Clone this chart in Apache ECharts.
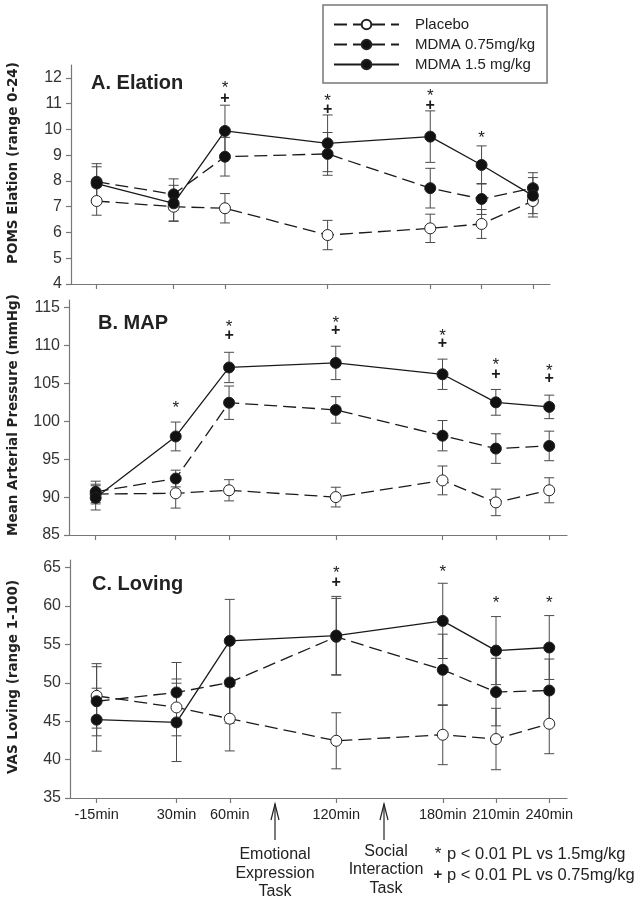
<!DOCTYPE html>
<html>
<head>
<meta charset="utf-8">
<script src="https://cdn.jsdelivr.net/npm/echarts@6/dist/echarts.min.js"></script>
<style>html,body{margin:0;padding:0;background:#fff;}#c{width:638px;height:902px;}</style>
</head>
<body>
<div id="c"></div>
<script>
// ---- data ----
const times = [-15, 30, 60, 120, 180, 210, 240];
const seriesNames = ['Placebo', 'MDMA 0.75mg/kg', 'MDMA 1.5 mg/kg'];

const elationPlacebo = [7.22, 7.0, 6.94, 5.90, 6.16, 6.33, 7.22];
const elationLow     = [7.97, 7.48, 8.94, 9.05, 7.72, 7.30, 7.72];
const elationHigh    = [7.90, 7.13, 9.94, 9.46, 9.72, 8.62, 7.43];
const elationPlaceboSE = [0.55, 0.55, 0.57, 0.57, 0.55, 0.56, 0.62];
const elationLowSE     = [0.70, 0.60, 0.75, 0.83, 0.77, 0.60, 0.60];
const elationHighSE    = [0.65, 0.70, 1.00, 1.10, 1.00, 0.74, 0.70];
const elationStar = [null, null, 11.76, 11.26, 11.43, 9.82, null];
const elationPlus = [null, null, 11.21, 10.76, 10.94, null, null];

const mapPlacebo = [90.4, 90.5, 90.9, 90.0, 92.2, 89.3, 90.9];
const mapLow     = [90.7, 92.45, 102.45, 101.5, 98.1, 96.4, 96.75];
const mapHigh    = [89.9, 98.0, 107.1, 107.7, 106.2, 102.5, 101.9];
const mapPlaceboSE = [1.3, 1.95, 1.4, 1.3, 1.9, 1.75, 1.65];
const mapLowSE     = [1.4, 1.1, 2.2, 1.75, 2.0, 1.95, 1.95];
const mapHighSE    = [1.6, 1.9, 2.0, 2.2, 2.0, 1.7, 1.55];
const mapStar = [null, 102.2, 112.9, 113.5, 111.7, 107.9, 107.1];
const mapPlus = [null, null, 111.3, 111.9, 110.2, 106.2, 105.6];

const lovingPlacebo = [48.3, 46.8, 45.33, 42.45, 43.24, 42.68, 44.67];
const lovingLow     = [47.6, 48.75, 50.05, 56.0, 51.7, 48.8, 49.0];
const lovingHigh    = [45.2, 44.85, 55.47, 56.16, 58.07, 54.2, 54.6];
const lovingPlaceboSE = [4.2, 3.7, 4.2, 3.65, 3.9, 4.0, 3.9];
const lovingLowSE     = [4.5, 3.9, 5.3, 5.0, 4.64, 4.4, 4.1];
const lovingHighSE    = [4.1, 5.1, 5.4, 5.1, 4.9, 4.43, 4.16];
const lovingStar = [null, null, null, 64.8, 64.9, 60.9, 60.9];
const lovingPlus = [null, null, null, 63.05, null, null, null];

const elationTicks = [4, 5, 6, 7, 8, 9, 10, 11, 12];
const mapTicks = [85, 90, 95, 100, 105, 110, 115];
const lovingTicks = [35, 40, 45, 50, 55, 60, 65];

// ---- build ----
const FONT = 'Liberation Sans, Arial, sans-serif';
const WIDE = 'DejaVu Sans, sans-serif';
const INK = '#1a1a1a';
const panels = [
  { grid: {left: 71, width: 479, top: 65, height: 219}, min: 4, max: 12.5, ticks: elationTicks,
    means: [elationPlacebo, elationLow, elationHigh], se: [elationPlaceboSE, elationLowSE, elationHighSE],
    star: elationStar, plus: elationPlus, showX: false },
  { grid: {left: 69, width: 498, top: 300, height: 235}, min: 85, max: 116, ticks: mapTicks,
    means: [mapPlacebo, mapLow, mapHigh], se: [mapPlaceboSE, mapLowSE, mapHighSE],
    star: mapStar, plus: mapPlus, showX: false },
  { grid: {left: 70, width: 497, top: 560, height: 238}, min: 35, max: 66, ticks: lovingTicks,
    means: [lovingPlacebo, lovingLow, lovingHigh], se: [lovingPlaceboSE, lovingLowSE, lovingHighSE],
    star: lovingStar, plus: lovingPlus, showX: true }
];

const axisLineStyle = {color: '#777', width: 1.2};
const grids = [], xAxes = [], yAxes = [], series = [];

function errRender(params, api) {
  const x = api.value(0), m = api.value(1), e = api.value(2);
  const t = api.coord([x, m + e]), b = api.coord([x, m - e]);
  const w = 5, st = {stroke: '#4a4a4a', lineWidth: 1};
  return {type: 'group', children: [
    {type: 'line', shape: {x1: t[0], y1: t[1], x2: b[0], y2: b[1]}, style: st},
    {type: 'line', shape: {x1: t[0] - w, y1: t[1], x2: t[0] + w, y2: t[1]}, style: st},
    {type: 'line', shape: {x1: b[0] - w, y1: b[1], x2: b[0] + w, y2: b[1]}, style: st}
  ]};
}
function textRender(txt, font, dy) {
  return function (params, api) {
    const p = api.coord([api.value(0), api.value(1)]);
    return {type: 'text', x: p[0], y: p[1] + dy,
      style: {text: txt, font: font, fill: '#1a1a1a', align: 'center', verticalAlign: 'middle'}};
  };
}
function pairs(vals) {
  const out = [];
  vals.forEach((v, i) => { if (v !== null) out.push([times[i], v]); });
  return out;
}

panels.forEach((p, gi) => {
  grids.push(p.grid);
  xAxes.push({
    type: 'value', gridIndex: gi, min: -30, max: 250,
    axisLine: {show: true, onZero: false, lineStyle: axisLineStyle},
    axisTick: {show: true, length: 5, lineStyle: axisLineStyle, customValues: times},
    axisLabel: {show: p.showX, customValues: times, formatter: v => v + 'min',
      fontFamily: FONT, fontSize: 14.5, color: '#222', margin: 9},
    splitLine: {show: false}
  });
  yAxes.push({
    type: 'value', gridIndex: gi, min: p.min, max: p.max,
    axisLine: {show: true, onZero: false, lineStyle: axisLineStyle},
    axisTick: {show: true, length: 5, lineStyle: axisLineStyle, customValues: p.ticks},
    axisLabel: {customValues: p.ticks, fontFamily: FONT, fontSize: 16, color: '#333', margin: 9},
    splitLine: {show: false}
  });
  // error bars
  p.means.forEach((arr, si) => {
    series.push({
      type: 'custom', name: 'err' + gi + si, xAxisIndex: gi, yAxisIndex: gi, z: 1,
      renderItem: errRender, encode: {x: 0, y: 1},
      data: arr.map((v, i) => [times[i], v, p.se[si][i]]), silent: true
    });
  });
  // lines
  p.means.forEach((arr, si) => {
    const isPlacebo = si === 0;
    series.push({
      type: 'line', name: seriesNames[si], xAxisIndex: gi, yAxisIndex: gi, z: 3 + si,
      data: arr.map((v, i) => [times[i], v]),
      symbol: 'circle', symbolSize: 11, showSymbol: true,
      lineStyle: {color: INK, width: 1.3, type: si === 2 ? 'solid' : [13, 6]},
      itemStyle: {color: isPlacebo ? '#fff' : '#111', borderColor: '#222', borderWidth: 1},
      emphasis: {disabled: true}, animation: false
    });
  });
  series.push({type: 'custom', name: 'star' + gi, xAxisIndex: gi, yAxisIndex: gi, z: 6,
    renderItem: textRender('*', '17px ' + FONT, 4), encode: {x: 0, y: 1}, data: pairs(p.star), silent: true});
  series.push({type: 'custom', name: 'plus' + gi, xAxisIndex: gi, yAxisIndex: gi, z: 6,
    renderItem: textRender('+', 'bold 16px ' + FONT, 0), encode: {x: 0, y: 1}, data: pairs(p.plus), silent: true});
});

function arrow(x) {
  const s = {stroke: '#222', lineWidth: 1.2, fill: null};
  return [
    {type: 'line', shape: {x1: x, y1: 804, x2: x, y2: 840}, style: s},
    {type: 'polyline', shape: {points: [[x - 4, 820], [x, 804], [x + 4, 820]]}, style: s}
  ];
}
function txt(text, x, y, opts) {
  return Object.assign({type: 'text', x: x, y: y,
    style: Object.assign({text: text, font: '16px ' + FONT, fill: '#222', align: 'center', verticalAlign: 'middle'}, opts || {})});
}

const graphics = [
  txt('A. Elation', 91, 83, {font: 'bold 20px ' + FONT, align: 'left'}),
  txt('B. MAP', 98, 323, {font: 'bold 20px ' + FONT, align: 'left'}),
  txt('C. Loving', 92, 584, {font: 'bold 20px ' + FONT, align: 'left'}),
  Object.assign(txt('POMS Elation (range 0-24)', 0, 0, {font: 'bold 13.5px ' + WIDE}), {x: 13, y: 163, rotation: Math.PI / 2}),
  Object.assign(txt('Mean Arterial Pressure (mmHg)', 0, 0, {font: 'bold 13.5px ' + WIDE}), {x: 13, y: 415, rotation: Math.PI / 2}),
  Object.assign(txt('VAS Loving (range 1-100)', 0, 0, {font: 'bold 13.5px ' + WIDE}), {x: 13, y: 677, rotation: Math.PI / 2}),
  ...arrow(275), ...arrow(384),
  txt('Emotional', 275, 855), txt('Expression', 275, 874), txt('Task', 275, 892),
  txt('Social', 386, 852), txt('Interaction', 386, 870), txt('Task', 386, 889),
  txt('*', 438, 854, {font: '17px ' + FONT}),
  txt('p < 0.01 PL vs 1.5mg/kg', 447, 854, {align: 'left', font: '16.5px ' + FONT}),
  txt('+', 438, 875, {font: 'bold 15px ' + FONT}),
  txt('p < 0.01 PL vs 0.75mg/kg', 447, 875, {align: 'left', font: '16.5px ' + FONT})
];

const chart = echarts.init(document.getElementById('c'), null, {renderer: 'canvas'});
chart.setOption({
  animation: false,
  backgroundColor: '#fff',
  grid: grids, xAxis: xAxes, yAxis: yAxes, series: series,
  legend: {
    data: seriesNames, orient: 'vertical', left: 323, top: 5,
    padding: [12, 12, 11, 10], itemWidth: 65, itemHeight: 12, itemGap: 5,
    borderColor: '#777', borderWidth: 1.5, selectedMode: false,
    textStyle: {fontFamily: FONT, fontSize: 15, color: '#222', padding: [0, 0, 0, 11]}
  },
  graphic: graphics
});
</script>
</body>
</html>
